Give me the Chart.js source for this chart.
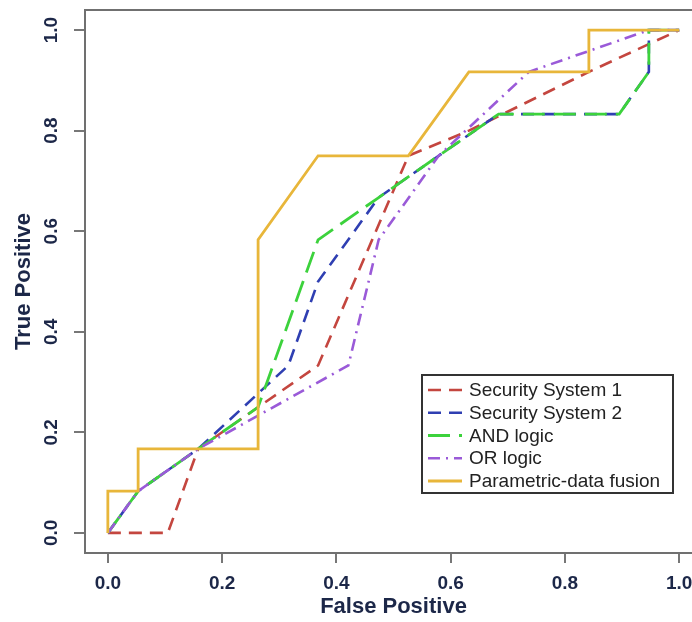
<!DOCTYPE html>
<html>
<head>
<meta charset="utf-8">
<title>ROC curves</title>
<script src="https://cdn.jsdelivr.net/npm/chart.js@4.4.1/dist/chart.umd.min.js"></script>
<style>
  html, body { margin: 0; padding: 0; background: #fff; overflow: hidden; }
  #wrap { width: 702px; height: 622px; }
</style>
</head>
<body>
<div id="wrap"><canvas id="rocChart"></canvas></div>
<script>
// axis ticks
const tickValues = [0, 0.2, 0.4, 0.6, 0.8, 1.0];

// series labels
const seriesNames = ['Security System 1', 'Security System 2', 'AND logic', 'OR logic', 'Parametric-data fusion'];

// Security System 1
const fpSys1 = [0, 0.105, 0.158, 0.263, 0.368, 0.526, 0.632, 0.842, 1];
const tpSys1 = [0, 0, 0.167, 0.25, 0.333, 0.75, 0.8, 0.917, 1];

// Security System 2
const fpSys2 = [0, 0.053, 0.158, 0.316, 0.368, 0.474, 0.684, 0.895, 0.947, 0.947, 1];
const tpSys2 = [0, 0.083, 0.167, 0.333, 0.5, 0.667, 0.833, 0.833, 0.917, 1, 1];

// AND logic
const fpAnd = [0, 0.053, 0.158, 0.263, 0.368, 0.474, 0.579, 0.684, 0.895, 0.947, 0.947, 1];
const tpAnd = [0, 0.083, 0.167, 0.25, 0.583, 0.667, 0.75, 0.833, 0.833, 0.917, 1, 1];

// OR logic
const fpOr = [0, 0.053, 0.158, 0.421, 0.474, 0.579, 0.737, 0.947, 1];
const tpOr = [0, 0.083, 0.167, 0.333, 0.583, 0.75, 0.917, 1, 1];

// Parametric-data fusion
const fpFusion = [0, 0, 0.053, 0.053, 0.263, 0.263, 0.368, 0.526, 0.632, 0.842, 0.842, 1];
const tpFusion = [0, 0.083, 0.083, 0.167, 0.167, 0.583, 0.75, 0.75, 0.917, 0.917, 1, 1];

const textColor = '#1c2748';
const fontFamily = "'Liberation Sans', Arial, sans-serif";

function toPoints(xs, ys) {
    return xs.map((x, i) => ({ x: x, y: ys[i] }));
}

const styles = [
    { color: '#c4463f', dash: [13, 8], width: 2.6 },
    { color: '#2f3fb2', dash: [13, 8], width: 2.6 },
    { color: '#3cd23c', dash: [22, 9], width: 2.8 },
    { color: '#9a5ad8', dash: [12, 6, 2, 6], width: 2.6 },
    { color: '#e8b63a', dash: [], width: 2.8 }
];

const pointSets = [
    toPoints(fpSys1, tpSys1),
    toPoints(fpSys2, tpSys2),
    toPoints(fpAnd, tpAnd),
    toPoints(fpOr, tpOr),
    toPoints(fpFusion, tpFusion)
];

const datasets = pointSets.map((pts, i) => ({
    label: seriesNames[i],
    data: pts,
    borderColor: styles[i].color,
    borderDash: styles[i].dash,
    borderWidth: styles[i].width,
    pointRadius: 0,
    tension: 0,
    fill: false,
    order: pointSets.length - i
}));

// box round the plot area, like R's bty="o"
const framePlugin = {
    id: 'frame',
    afterDraw(chart) {
        const a = chart.chartArea;
        const ctx = chart.ctx;
        ctx.save();
        ctx.strokeStyle = '#707070';
        ctx.lineWidth = 2;
        ctx.strokeRect(a.left, a.top, a.right - a.left, a.bottom - a.top);
        ctx.restore();
    }
};

// legend box inside the plot
const boxLegend = {
    id: 'boxLegend',
    afterDraw(chart) {
        const ctx = chart.ctx;
        const left = 422, top = 375, right = 673, bottom = 493;
        ctx.save();
        ctx.fillStyle = '#fff';
        ctx.fillRect(left, top, right - left, bottom - top);
        ctx.strokeStyle = '#333';
        ctx.lineWidth = 2;
        ctx.strokeRect(left, top, right - left, bottom - top);
        ctx.font = '19px ' + fontFamily;
        ctx.textBaseline = 'middle';
        ctx.fillStyle = '#222';
        chart.data.datasets.forEach((ds, i) => {
            const y = 390 + i * 22.75;
            ctx.beginPath();
            ctx.strokeStyle = ds.borderColor;
            ctx.lineWidth = ds.borderWidth;
            ctx.setLineDash(ds.borderDash);
            ctx.moveTo(428, y);
            ctx.lineTo(462, y);
            ctx.stroke();
            ctx.setLineDash([]);
            ctx.fillText(ds.label, 469, y + 1);
        });
        ctx.restore();
    }
};

function fixedTicks(scale) {
    scale.ticks = tickValues.map(v => ({ value: v }));
}

// no extra room for end labels, the range already has R's 4% margin
function noEdgePadding(scale) {
    scale.paddingTop = 0;
    scale.paddingBottom = 0;
    scale.paddingLeft = 0;
    scale.paddingRight = 0;
}

const tickFont = { family: fontFamily, size: 19, weight: 'bold' };
const titleFont = { family: fontFamily, size: 22, weight: 'bold' };

new Chart(document.getElementById('rocChart'), {
    type: 'line',
    data: { datasets: datasets },
    options: {
        responsive: true,
        maintainAspectRatio: false,
        animation: false,
        layout: { padding: { top: 10, right: 0, bottom: 0, left: 0 } },
        plugins: {
            legend: { display: false },
            tooltip: { enabled: false }
        },
        scales: {
            x: {
                type: 'linear',
                min: -0.04,
                max: 1.04,
                afterBuildTicks: fixedTicks,
                afterFit(scale) { scale.height = 69; noEdgePadding(scale); },
                grid: { drawOnChartArea: false, tickLength: 10, color: '#777', lineWidth: 2 },
                border: { display: false },
                ticks: {
                    autoSkip: false,
                    maxRotation: 0,
                    padding: 9,
                    color: textColor,
                    font: tickFont,
                    callback: v => Number(v).toFixed(1)
                },
                title: {
                    display: true,
                    text: 'False Positive',
                    color: textColor,
                    font: titleFont,
                    padding: { top: 0, bottom: 2 }
                }
            },
            y: {
                type: 'linear',
                min: -0.04,
                max: 1.04,
                afterBuildTicks: fixedTicks,
                afterFit(scale) { scale.width = 85; noEdgePadding(scale); },
                grid: { drawOnChartArea: false, tickLength: 11, color: '#777', lineWidth: 2 },
                border: { display: false },
                ticks: {
                    autoSkip: false,
                    minRotation: 90,
                    maxRotation: 90,
                    crossAlign: 'center',
                    padding: 9,
                    color: textColor,
                    font: tickFont,
                    callback: v => Number(v).toFixed(1)
                },
                title: {
                    display: true,
                    text: 'True Positive',
                    color: textColor,
                    font: titleFont,
                    padding: { top: 11, bottom: 0 }
                }
            }
        }
    },
    plugins: [framePlugin, boxLegend]
});
</script>
</body>
</html>
